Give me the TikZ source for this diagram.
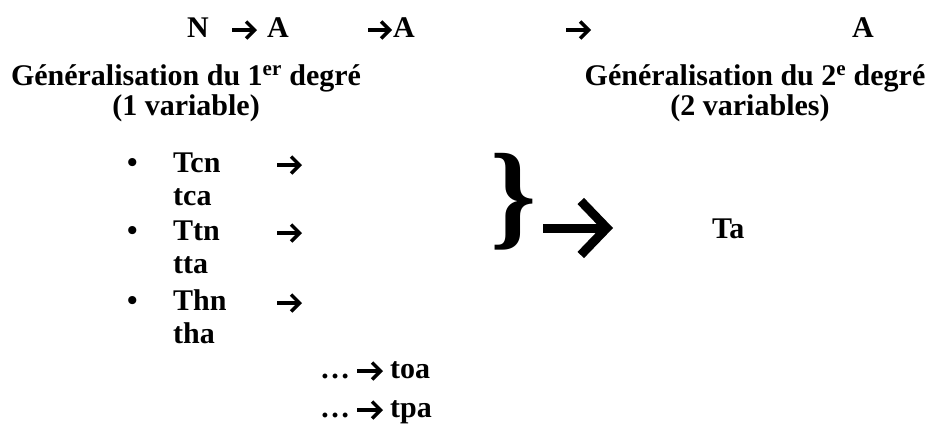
\documentclass[tikz,border=0pt]{standalone}
\usepackage{fontspec}
\setmainfont{Liberation Serif}
\usetikzlibrary{arrows.meta}

\begin{document}
\begin{tikzpicture}[
  x=1pt, y=-1pt,
  txt/.style={
    inner sep=0pt,
    anchor=base west,
    font=\fontsize{30}{34}\selectfont\bfseries
  },
  head/.style={txt, anchor=base},
  arr/.style={
    draw,
    line width=3.4pt,
    -{Straight Barb[length=8.5pt, width=17pt, line join=miter]}
  },
  bigarr/.style={
    draw,
    line width=9pt,
    -{Straight Barb[length=26pt, width=54pt, line join=miter]}
  }
]
\useasboundingbox (0,0) rectangle (929,432);

% top row
\node[txt] (n) at (187,37) {N};
\coordinate (a1s) at (232,30);
\coordinate (a1e) at (257,30);
\node[txt] (a1) at (267,37) {A};
\coordinate (a2s) at (368,30);
\coordinate (a2e) at (392,30);
\node[txt] (a2) at (393,37) {A};
\coordinate (a3s) at (566,30);
\coordinate (a3e) at (591,30);
\node[txt] (a3) at (852,37) {A};

\draw[arr] (a1s) -- (a1e);
\draw[arr] (a2s) -- (a2e);
\draw[arr] (a3s) -- (a3e);

% headings
\node[head] (gen1) at (186,85) {Généralisation du 1\textsuperscript{er} degré};
\node[head] (var1) at (186,115) {(1 variable)};
\node[head] (gen2) at (755,85) {Généralisation du 2\textsuperscript{e} degré};
\node[head] (var2) at (750,115) {(2 variables)};

% list
\node[txt] (b1) at (127,172) {\textbullet};
\node[txt] (tcn) at (173,172) {Tcn};
\node[txt] (tca) at (173,205) {tca};
\node[txt] (b2) at (127,240) {\textbullet};
\node[txt] (ttn) at (173,240) {Ttn};
\node[txt] (tta) at (173,273) {tta};
\node[txt] (b3) at (127,310) {\textbullet};
\node[txt] (thn) at (173,310) {Thn};
\node[txt] (tha) at (173,343) {tha};
\coordinate (l1s) at (277,165);
\coordinate (l1e) at (302,165);
\coordinate (l2s) at (277,233);
\coordinate (l2e) at (302,233);
\coordinate (l3s) at (277,303);
\coordinate (l3e) at (302,303);
\draw[arr] (l1s) -- (l1e);
\draw[arr] (l2s) -- (l2e);
\draw[arr] (l3s) -- (l3e);

\node[txt] (d1) at (320,378) {…};
\coordinate (d1s) at (357,371);
\coordinate (d1e) at (383,371);
\node[txt] (toa) at (390,378) {toa};
\node[txt] (d2) at (320,417) {…};
\coordinate (d2s) at (357,410);
\coordinate (d2e) at (383,410);
\node[txt] (tpa) at (390,417) {tpa};
\draw[arr] (d1s) -- (d1e);
\draw[arr] (d2s) -- (d2e);

% brace and result
\node[txt, font=\fontsize{117}{117}\selectfont\bfseries] (brace) at (490,234) {\}};
\coordinate (bs) at (543,228);
\coordinate (be) at (613,228);
\draw[bigarr] (bs) -- (be);
\node[txt] (ta) at (712,238) {Ta};
\end{tikzpicture}
\end{document}
